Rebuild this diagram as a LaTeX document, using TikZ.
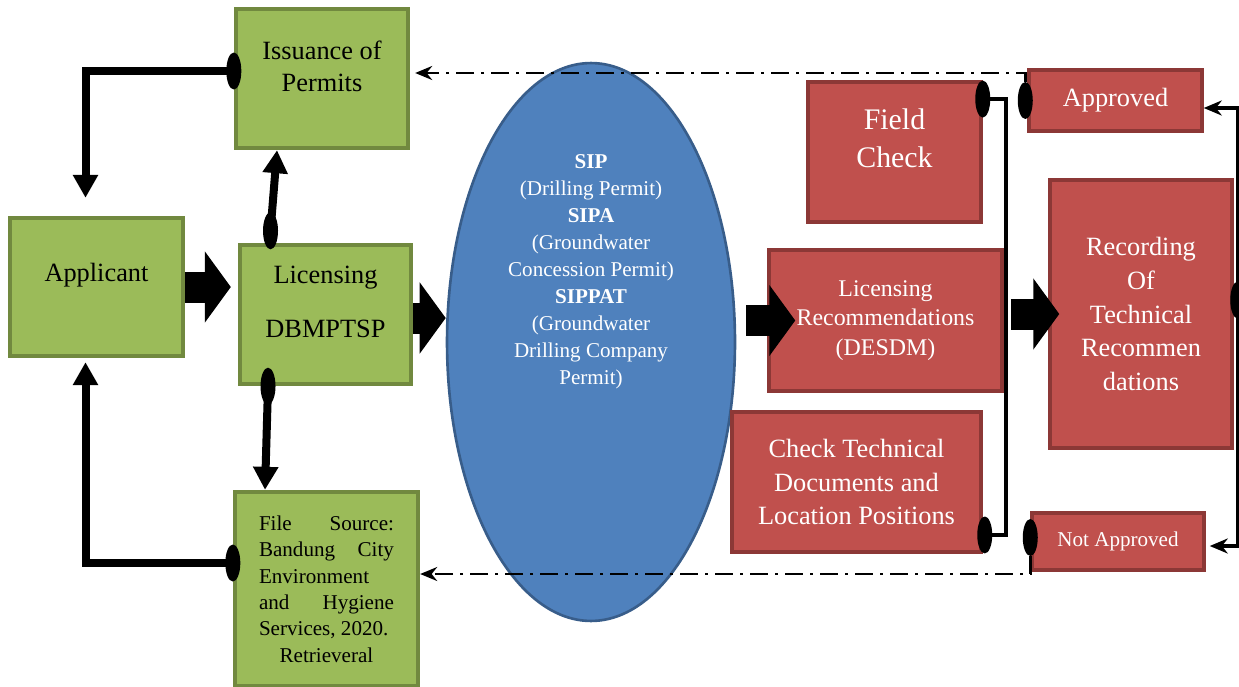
\documentclass[tikz,border=0pt]{standalone}
\usepackage{fontspec}
\setmainfont{Liberation Serif}
\usetikzlibrary{shapes.geometric, arrows.meta}

\definecolor{boxgreen}{HTML}{9BBB59}
\definecolor{greenline}{HTML}{71893F}
\definecolor{boxred}{HTML}{C0504D}
\definecolor{redline}{HTML}{8C3836}
\definecolor{boxblue}{HTML}{4F81BD}
\definecolor{blueline}{HTML}{385D8A}

\tikzset{
	greenbox/.style={draw=greenline, fill=boxgreen, line width=2.5pt, align=center, font=\fontsize{15}{18}\selectfont}, % office boxes
	redbox/.style={draw=redline, fill=boxred, line width=2pt, text=white, align=center}, % DESDM boxes
	blob/.style={ellipse, fill=black, inner sep=0pt, minimum width=0.3cm, minimum height=0.74cm}, % oval start of a link
	link/.style={line width=0.16cm, -{Triangle[length=0.46cm, width=0.48cm]}}, % thick links on the left
	thinlink/.style={line width=0.09cm}, % links on the right
	fatarrow/.style={line width=0.62cm, -{Triangle[length=0.52cm, width=1.4cm]}}, % main flow
	dashdot/.style={line width=0.05cm, dash pattern=on 0.36cm off 0.14cm on 0.06cm off 0.14cm, -{Stealth[length=0.34cm, width=0.28cm]}}, % results back
}

\begin{document}
\begin{tikzpicture}[x=0.02cm, y=-0.02cm]
\useasboundingbox (0,0) rectangle (1239,686);

% Green boxes
\node[greenbox, minimum width=3.44cm, minimum height=2.78cm, text depth=0.5cm] (iss) at (322,78.5) {Issuance of\\Permits};
\node[greenbox, minimum width=3.46cm, minimum height=2.76cm, text depth=0.58cm] (app) at (96.5,287) {Applicant};
\node[greenbox, minimum width=3.42cm, minimum height=2.78cm, text depth=0.5cm] (lic) at (325.5,314.5) {Licensing\\[0.45cm]DBMPTSP};
\node[greenbox, minimum width=3.66cm, minimum height=3.88cm, text width=2.7cm, align=justify, font=\fontsize{12}{15}\selectfont] (src) at (326.5,589) {File Source: Bandung City Environment and Hygiene Services, 2020.\par\makebox[\linewidth]{Retrieveral}};

% Permits
\node[ellipse, draw=blueline, fill=boxblue, line width=1.5pt, minimum width=5.76cm, minimum height=11.16cm, inner sep=0pt, text=white, align=center, font=\fontsize{12}{15.3}\selectfont, text depth=2.9cm] (ell) at (591,342) {\textbf{SIP}\\(Drilling Permit)\\\textbf{SIPA}\\(Groundwater\\Concession Permit)\\\textbf{SIPPAT}\\(Groundwater\\Drilling Company\\Permit)};

% Red boxes
\node[redbox, minimum width=3.46cm, minimum height=2.8cm, text depth=0.54cm, font=\fontsize{17}{21.5}\selectfont] (fc) at (894.5,152) {Field\\Check};
\node[redbox, minimum width=3.46cm, minimum height=1.22cm, font=\fontsize{15}{18}\selectfont] (appr) at (1115.5,100.5) {Approved};
\node[redbox, minimum width=3.64cm, minimum height=5.36cm, font=\fontsize{15}{19.3}\selectfont] (rec) at (1141,314) {Recording\\Of\\Technical\\Recommen\\dations};
\node[redbox, minimum width=4.66cm, minimum height=2.82cm, font=\fontsize{13.6}{17}\selectfont] (lr) at (885.5,320.5) {Licensing\\Recommendations\\(DESDM)};
\node[redbox, minimum width=4.98cm, minimum height=2.8cm, font=\fontsize{15}{19.3}\selectfont] (ct) at (856.5,482) {Check Technical\\Documents and\\Location Positions};
\node[redbox, minimum width=3.44cm, minimum height=1.14cm, font=\fontsize{12}{15}\selectfont] (na) at (1118,541.5) {Not Approved};

% Ovals
\node[blob] (issb) at ([yshift=0.15cm]iss.west) {};
\node[blob] (licnb) at ([xshift=-1.1cm, yshift=0.24cm]lic.north) {};
\node[blob] (licsb) at ([xshift=-1.15cm]lic.south) {};
\node[blob] (srcb) at ([yshift=0.52cm]src.west) {};
\node[blob] (fcb) at ([yshift=1.06cm]fc.east) {};
\node[blob] (ctb) at ([xshift=0.04cm, yshift=-1.06cm]ct.east) {};
\node[blob] (recb) at ([xshift=0.08cm, yshift=0.28cm]rec.east) {};
\node[blob] (apb) at ([xshift=-0.04cm]appr.west) {};
\node[blob] (nab) at ([yshift=0.08cm]na.west) {};

% Links on the left
\draw[link] (issb.center) -| ([xshift=-0.22cm, yshift=0.36cm]app.north);
\draw[link] (licnb.center) -- ([xshift=-0.9cm]iss.south);
\draw[link] (licsb.center) -- ([xshift=-1.23cm]src.north);
\draw[link] (srcb.center) -| ([xshift=-0.22cm, yshift=-0.08cm]app.south);

% Main flow
\draw[fatarrow] (app.east) -- ([xshift=-0.14cm]lic.west |- app.east);
\draw[fatarrow] ([yshift=-0.07cm]lic.east) -- ([yshift=-0.07cm]lic.east -| ell.west);
\draw[fatarrow] ([xshift=0.2cm]ell.east |- lr.west) -- ([xshift=0.56cm]lr.west);
\draw[fatarrow] ([xshift=0.14cm]lr.east |- rec.west) -- ([xshift=0.22cm]rec.west);

% Links on the right
\draw[thinlink] (fcb.center) -- ++(0.46cm,0) |- (ctb.center);
\draw[thinlink, -{Stealth[length=0.36cm, width=0.3cm]}] (recb.center) |- ([yshift=-0.15cm]appr.east);
\draw[thinlink, -{Stealth[length=0.36cm, width=0.3cm]}] (recb.center) |- ([xshift=0.08cm, yshift=-0.09cm]na.east);

% Results back
\draw[dashdot] (apb.north) |- ([xshift=0.1cm, yshift=0.11cm]iss.east);
\draw[dashdot] (nab.south) |- ([yshift=0.3cm]src.east);
\end{tikzpicture}
\end{document}
